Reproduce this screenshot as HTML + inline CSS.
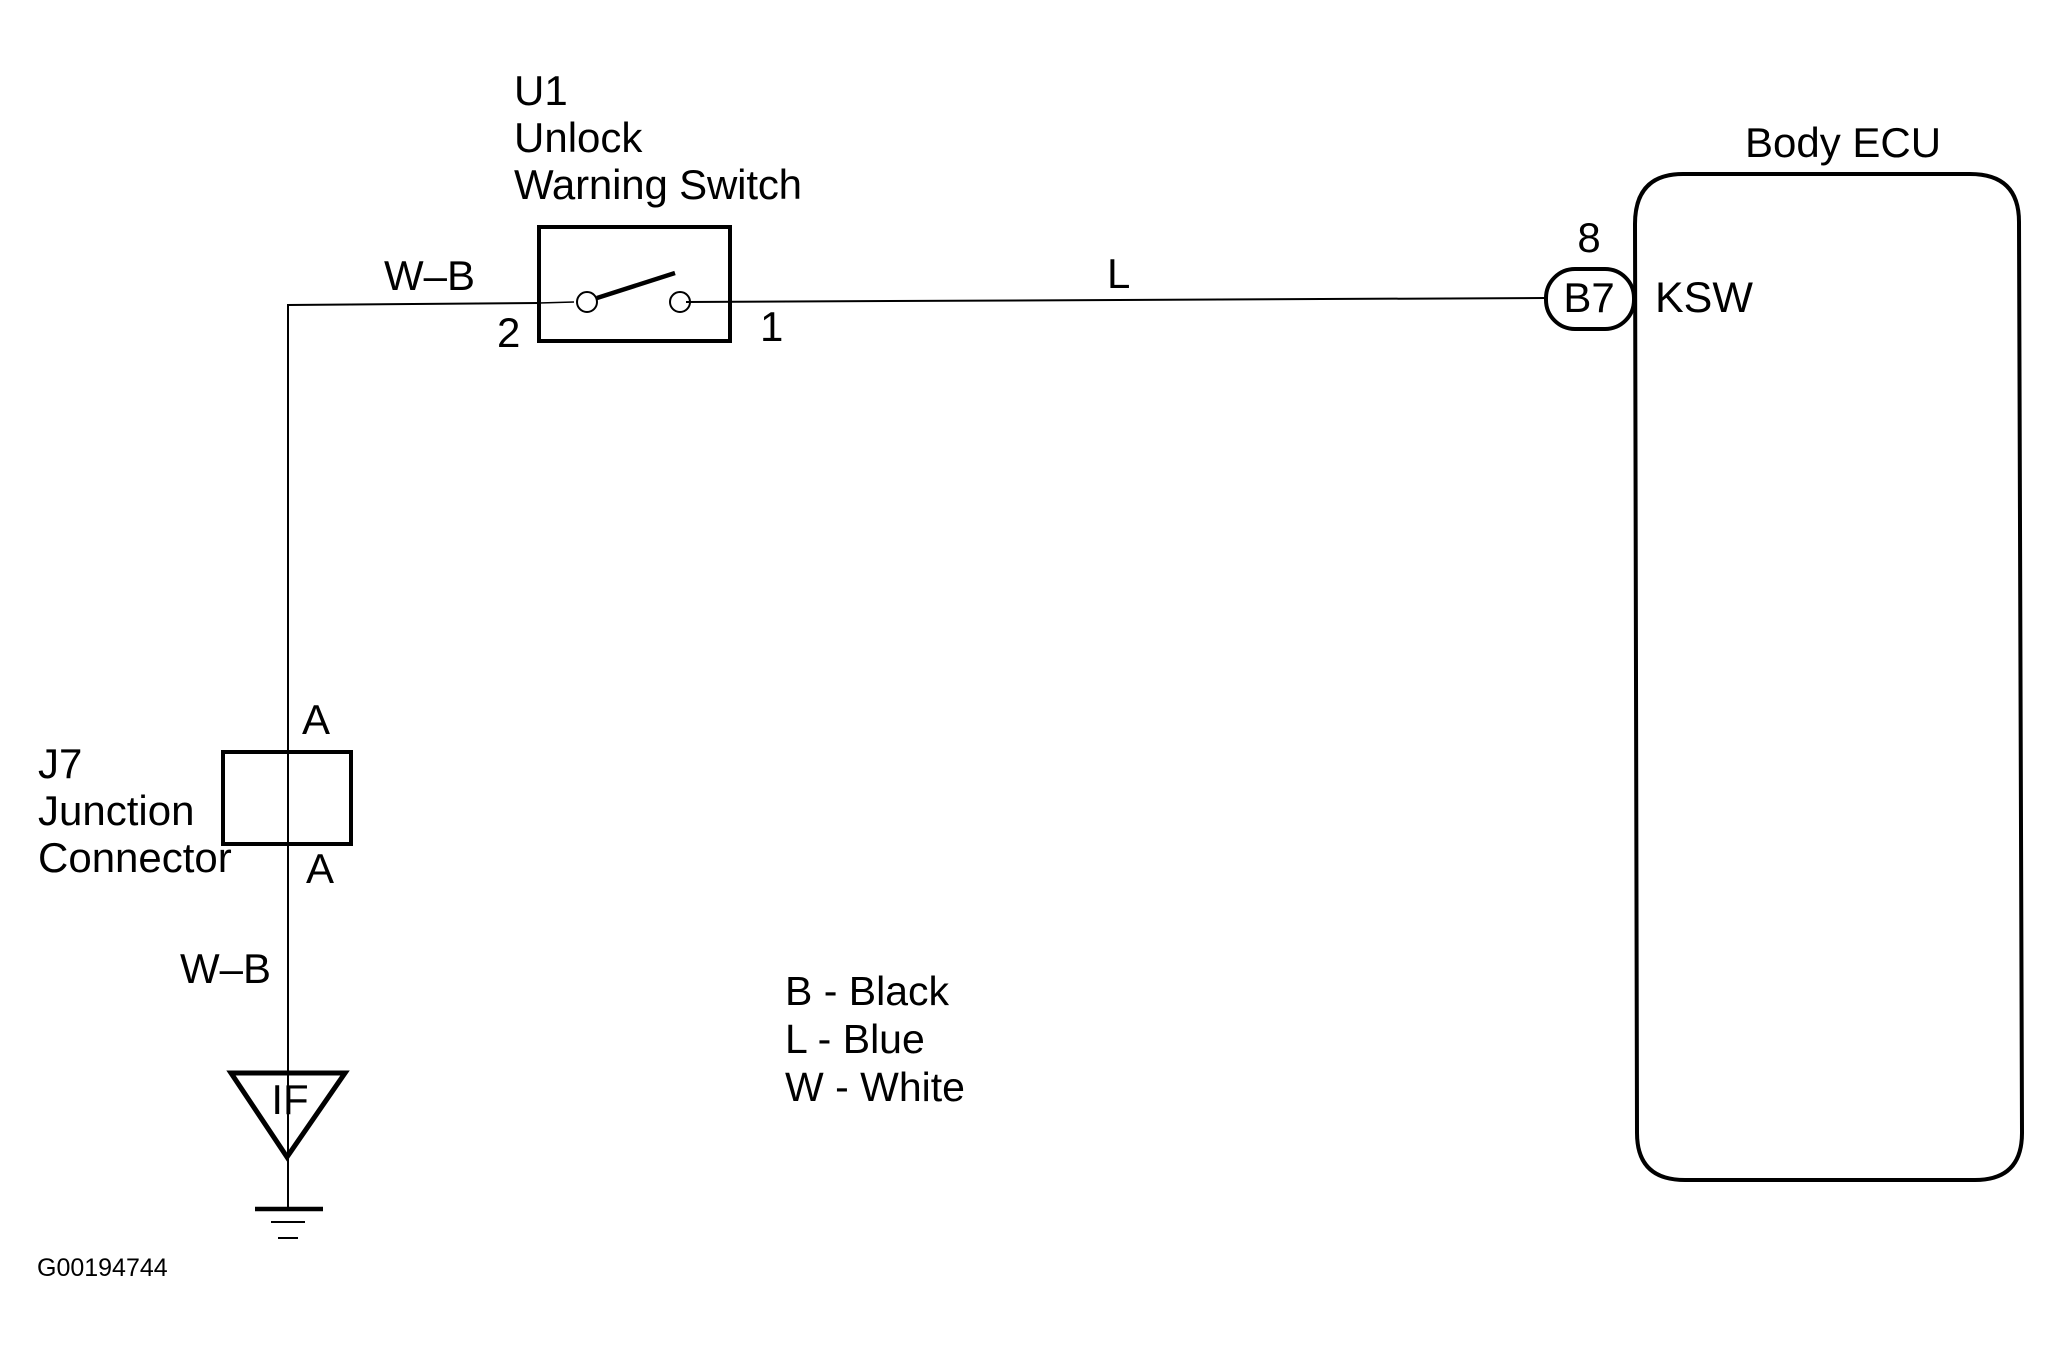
<!DOCTYPE html>
<html>
<head>
<meta charset="utf-8">
<style>
html,body{margin:0;padding:0;background:#fff;width:2062px;height:1351px;overflow:hidden}
svg{display:block}
text{font-family:"Liberation Sans",sans-serif;font-size:42px;fill:#000}
</style>
</head>
<body>
<svg width="2062" height="1351" viewBox="0 0 2062 1351" xmlns="http://www.w3.org/2000/svg">
<rect width="2062" height="1351" fill="#fff"/>
<g fill="none" stroke="#000">
  <polyline points="539,303 288,305 288,1209" stroke-width="2"/>
  <line x1="539" y1="303" x2="574" y2="302" stroke-width="1.5"/>
  <line x1="686" y1="302" x2="1545" y2="298" stroke-width="2"/>
  <rect x="539" y="227" width="191" height="114" stroke-width="4"/>
  <circle cx="587" cy="302" r="10" stroke-width="2"/>
  <circle cx="680" cy="302" r="10" stroke-width="2"/>
  <line x1="597" y1="298" x2="675" y2="273" stroke-width="4.5"/>
  <rect x="1546" y="269" width="88" height="60" rx="29" ry="29" stroke-width="4"/>
  <path d="M1635,224 Q1635,174 1683,174 L1970,174 Q2019,174 2019,222 L2022,1133 Q2022,1180 1975,1180 L1685,1180 Q1637,1180 1637,1133 Z" stroke-width="4"/>
  <rect x="223" y="752" width="128" height="92" stroke-width="4"/>
  <polygon points="231,1073 345,1073 287,1157" stroke-width="5"/>
  <line x1="255" y1="1209" x2="323" y2="1209" stroke-width="4.5"/>
  <line x1="271" y1="1222" x2="305" y2="1222" stroke-width="2"/>
  <line x1="278" y1="1238" x2="298" y2="1238" stroke-width="2"/>
</g>
<text x="514" y="105">U1</text>
<text x="514" y="152">Unlock</text>
<text x="514" y="199" textLength="288">Warning Switch</text>
<text x="384" y="290">W–B</text>
<text x="497" y="347">2</text>
<text x="760" y="341">1</text>
<text x="1107" y="288">L</text>
<text x="1589" y="252" text-anchor="middle">8</text>
<text x="1589" y="312" text-anchor="middle">B7</text>
<text x="1655" y="312" style="font-size:43px">KSW</text>
<text x="1745" y="157">Body ECU</text>
<text x="302" y="734">A</text>
<text x="38" y="778">J7</text>
<text x="38" y="825">Junction</text>
<text x="38" y="872">Connector</text>
<text x="306" y="883">A</text>
<text x="180" y="983">W–B</text>
<text x="290" y="1114" text-anchor="middle">IF</text>
<text x="785" y="1005" style="font-size:41px">B - Black</text>
<text x="785" y="1053" style="font-size:41px">L - Blue</text>
<text x="785" y="1101" style="font-size:41px">W - White</text>
<text x="37" y="1276" style="font-size:25px">G00194744</text>
</svg>
</body>
</html>
